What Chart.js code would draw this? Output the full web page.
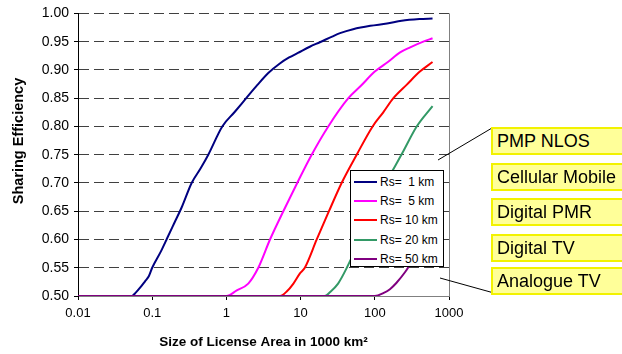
<!DOCTYPE html>
<html>
<head>
<meta charset="utf-8">
<script src="https://cdn.jsdelivr.net/npm/chart.js@4"></script>
<style>
  html, body { margin: 0; padding: 0; background: #fff; }
  #wrap { position: relative; width: 622px; height: 354px; overflow: hidden; font-family: "Liberation Sans", Arial, sans-serif; }
  #c { position: absolute; left: 0; top: 0; }
  .lbl { position: absolute; left: 491px; width: 140px; box-sizing: border-box; background: #FFFF99; border: 2px solid #F2F200; font-size: 18px; color: #000; padding-left: 4px; line-height: 24px; }
  #legend { position: absolute; left: 350px; top: 170px; width: 94px; height: 97px; box-sizing: border-box; border: 1px solid #000; background: #fff; font-size: 12px; color: #000; }
  .row { position: absolute; left: 3px; height: 14px; }
  .row .sw { position: absolute; left: 0; top: 6px; width: 23px; height: 2px; }
  .row .tx { position: absolute; left: 26px; top: 0; white-space: pre; line-height: 14px; }
</style>
</head>
<body>
<div id="wrap">
  <canvas id="c" width="622" height="354"></canvas>
  <div id="legend"></div>
  <div id="boxes"></div>
</div>
<script>
// ---- data ----
const seriesNames = ["Rs=  1 km", "Rs=  5 km", "Rs= 10 km", "Rs= 20 km", "Rs= 50 km"];
const seriesColors = ["#000080", "#FF00FF", "#FF0000", "#339966", "#800080"];

const rs1X = [0.01, 0.053, 0.06, 0.07, 0.08, 0.09, 0.1, 0.13, 0.16, 0.2, 0.25, 0.34, 0.45, 0.57, 0.88, 1.3, 1.85, 2.6, 3.7, 5.2, 7, 9.2, 13.3, 18.2, 26.6, 34, 51, 87, 146, 230, 400, 600];
const rs1Y = [0.5, 0.5, 0.506, 0.516, 0.526, 0.535, 0.55, 0.578, 0.603, 0.63, 0.657, 0.70, 0.726, 0.75, 0.80, 0.826, 0.85, 0.873, 0.895, 0.911, 0.922, 0.930, 0.941, 0.949, 0.959, 0.965, 0.972, 0.978, 0.982, 0.987, 0.990, 0.991];

const rs5X = [0.01, 1.0, 1.38, 1.97, 2.69, 3.87, 5.85, 9.0, 14.1, 23.6, 44, 65, 100, 150, 219, 300, 450, 600];
const rs5Y = [0.5, 0.5, 0.510, 0.522, 0.55, 0.60, 0.65, 0.70, 0.75, 0.80, 0.85, 0.872, 0.897, 0.914, 0.931, 0.940, 0.950, 0.956];

const rs10X = [0.01, 5.3, 6.5, 8, 9.8, 11.4, 16.5, 24.1, 35.7, 57, 93.5, 130, 178, 270, 405, 600];
const rs10Y = [0.5, 0.5, 0.508, 0.522, 0.54, 0.55, 0.60, 0.65, 0.70, 0.75, 0.80, 0.825, 0.85, 0.874, 0.897, 0.914];

const rs20X = [0.01, 21, 25, 32, 42, 63, 93, 136, 172, 237, 367, 600];
const rs20Y = [0.5, 0.5, 0.507, 0.522, 0.55, 0.60, 0.65, 0.70, 0.721, 0.754, 0.80, 0.836];

const rs50X = [0.01, 100, 130, 160, 195, 255, 280, 420, 600];
const rs50Y = [0.5, 0.5, 0.505, 0.512, 0.523, 0.542, 0.55, 0.60, 0.64];

const xTickValues = [0.01, 0.1, 1, 10, 100, 1000];
const xTickLabels = ["0.01", "0.1", "1", "10", "100", "1000"];
const yTickLabels = ["0.50", "0.55", "0.60", "0.65", "0.70", "0.75", "0.80", "0.85", "0.90", "0.95", "1.00"];

const xTitle = "Size of License Area in 1000 km\u00B2";
const yTitle = "Sharing Efficiency";
const serviceLabels = ["PMP NLOS", "Cellular Mobile", "Digital PMR", "Digital TV", "Analogue TV"];
// ----------------------------------------------

const FONT = '"Liberation Sans", Arial, sans-serif';
const allX = [rs1X, rs5X, rs10X, rs20X, rs50X];
const allY = [rs1Y, rs5Y, rs10Y, rs20Y, rs50Y];

const datasets = seriesNames.map((name, i) => ({
  label: name,
  data: allX[i].map((x, j) => ({ x: x, y: allY[i][j] })),
  borderColor: seriesColors[i],
  backgroundColor: seriesColors[i],
  borderWidth: 2,
  pointRadius: 0,
  cubicInterpolationMode: 'monotone',
  fill: false,
  order: seriesNames.length - 1 - i
}));

const framePlugin = {
  id: 'frame',
  afterDatasetsDraw(chart) {
    const { ctx, chartArea: a } = chart;
    ctx.save();
    ctx.strokeStyle = '#808080';
    ctx.lineWidth = 1;
    ctx.beginPath();
    ctx.moveTo(Math.round(a.right) + 0.5, a.top);
    ctx.lineTo(Math.round(a.right) + 0.5, a.bottom);
    ctx.stroke();
    ctx.restore();
  },
  afterDraw(chart) {
    const { ctx } = chart;
    ctx.save();
    ctx.translate(19, 141);
    ctx.rotate(-Math.PI / 2);
    ctx.font = 'bold 14.5px ' + FONT;
    ctx.fillStyle = '#000';
    ctx.textAlign = 'center';
    ctx.textBaseline = 'middle';
    ctx.fillText(yTitle, 0, 0);
    ctx.restore();
    ctx.save();
    ctx.strokeStyle = '#000';
    ctx.lineWidth = 1;
    ctx.beginPath();
    ctx.moveTo(492, 128);
    ctx.lineTo(438, 160);
    ctx.moveTo(440, 278);
    ctx.lineTo(494, 293);
    ctx.stroke();
    ctx.restore();
  }
};

new Chart(document.getElementById('c'), {
  type: 'line',
  data: { datasets: datasets },
  options: {
    responsive: false,
    animation: false,
    devicePixelRatio: 1,
    layout: { padding: { left: 0, top: 9, right: 173, bottom: 0 } },
    plugins: { legend: { display: false }, tooltip: { enabled: false } },
    scales: {
      x: {
        type: 'logarithmic',
        min: 0.01,
        max: 1000,
        afterBuildTicks: s => { s.ticks = xTickValues.map(v => ({ value: v })); },
        afterFit: s => { s.height = 58; },
        ticks: {
          autoSkip: false,
          maxRotation: 0,
          padding: 6,
          color: '#000',
          font: { family: FONT, size: 13 },
          callback: (v, i) => xTickLabels[i]
        },
        grid: { display: true, drawOnChartArea: false, drawTicks: true, tickLength: 4, tickColor: '#000' },
        border: { display: true, color: '#808080', width: 1 },
        title: { display: true, text: xTitle, color: '#000', font: { family: FONT, size: 13.5, weight: 'bold' }, padding: { top: 0, bottom: 4 } }
      },
      y: {
        type: 'linear',
        min: 0.5,
        max: 1.0,
        afterFit: s => { s.width = 78; },
        ticks: {
          stepSize: 0.05,
          padding: 5,
          color: '#000',
          font: { family: FONT, size: 14 },
          callback: (v, i) => yTickLabels[i]
        },
        grid: { display: true, drawOnChartArea: true, drawTicks: true, tickLength: 4, color: '#404040', lineWidth: 1, tickColor: '#000' },
        border: { display: true, color: '#000', width: 1, dash: [10, 5] }
      }
    }
  },
  plugins: [framePlugin]
});

const leg = document.getElementById('legend');
const rowTops = [4, 23, 42, 62, 81];
seriesNames.forEach((name, i) => {
  const r = document.createElement('div');
  r.className = 'row';
  r.style.top = rowTops[i] + 'px';
  r.innerHTML = '<div class="sw" style="background:' + seriesColors[i] + '"></div><div class="tx"></div>';
  r.querySelector('.tx').textContent = name;
  leg.appendChild(r);
});

const boxTops = [127, 163, 198, 234, 267];
const boxes = document.getElementById('boxes');
serviceLabels.forEach((t, i) => {
  const b = document.createElement('div');
  b.className = 'lbl';
  b.style.top = boxTops[i] + 'px';
  b.textContent = t;
  boxes.appendChild(b);
});
</script>
</body>
</html>
